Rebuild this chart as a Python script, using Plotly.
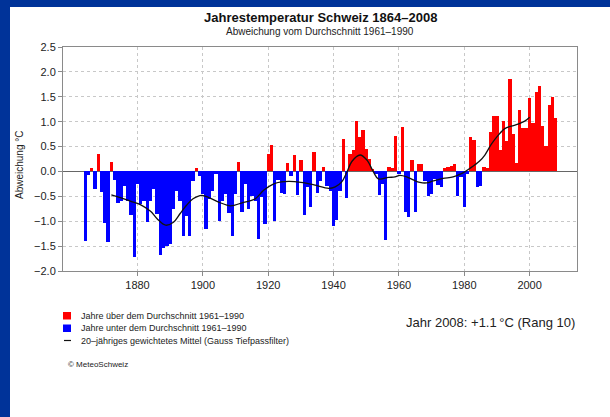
import plotly.graph_objects as go

# ---------------- data ----------------
years = list(range(1864, 2009))
anomaly = [
    -1.39, -0.08, 0.07, -0.36, 0.36, -0.41, -1.03, -1.42, 0.19, -0.18,   # 1864-1873
    -0.63, -0.60, -0.30, -0.60, -0.88, -1.72, -0.25, -0.65, -0.60, -1.01,  # 1874-1883
    -0.60, -0.35, -0.85, -1.68, -1.54, -1.50, -1.46, -0.75, -0.40, -0.60,  # 1884-1893
    -1.30, -0.90, -1.30, -0.20, 0.07, -0.10, -0.45, -1.16, -0.55, -0.40,   # 1894-1903
    -0.05, -1.00, -0.60, -0.45, -0.84, -1.30, -0.45, 0.19, -0.82, -0.25,   # 1904-1913
    -0.75, -0.50, -0.60, -1.35, -0.51, -1.06, 0.36, 0.54, -1.00, -0.17,    # 1914-1923
    -0.44, -0.45, 0.16, -0.10, 0.33, -0.48, 0.24, -0.88, -0.31, -0.71,     # 1924-1933
    0.40, -0.44, -0.20, 0.08, -0.30, -0.40, -1.10, -0.98, -0.40, 0.66,     # 1934-1943
    -0.54, 0.36, 0.43, 1.02, 0.70, 0.84, 0.46, 0.26, 0.05, -0.05,          # 1944-1953
    -0.48, -0.25, -1.38, 0.09, 0.06, 0.72, -0.05, 0.90, -0.81, -0.92,      # 1954-1963
    0.23, -0.82, 0.14, 0.15, -0.20, -0.50, -0.46, -0.15, -0.27, -0.31,     # 1964-1973
    0.06, 0.09, 0.10, 0.15, -0.50, -0.12, -0.71, -0.05, 0.70, 0.63,        # 1974-1983
    -0.31, -0.30, 0.08, 0.06, 0.80, 1.12, 1.12, 0.43, 1.02, 0.62,          # 1984-1993
    1.85, 0.75, 0.16, 1.23, 0.87, 0.87, 1.47, 0.97, 1.60, 1.72,            # 1994-2003
    0.91, 0.51, 1.34, 1.49, 1.08,                                          # 2004-2008
]

# 20-year Gaussian low-pass curve
curve_years = [1872, 1875, 1878, 1881, 1884, 1886, 1888.6, 1891, 1893, 1895,
               1897, 1899.7, 1902, 1905, 1908.5, 1912, 1916, 1918.6, 1921.7,
               1924, 1926.5, 1930, 1934, 1938.5, 1940.5, 1942.5, 1944.1,
               1945.6, 1948.1, 1950.2, 1952.2, 1953.7, 1956.8, 1958.8, 1960.3,
               1962.4, 1964.4, 1966.4, 1968.5, 1970.5, 1973.5, 1976.6, 1979.6,
               1981.7, 1984.7, 1986.3, 1988.3, 1990.3, 1992.4, 1994.4, 1996.4,
               1998.5, 2000]
curve_values = [-0.47, -0.53, -0.60, -0.67, -0.80, -0.95, -1.08, -1.02, -0.85, -0.68,
                -0.55, -0.48, -0.53, -0.62, -0.69, -0.63, -0.55, -0.38, -0.25,
                -0.21, -0.20, -0.22, -0.27, -0.34, -0.31, -0.21, -0.01,
                0.20, 0.33, 0.23, -0.01, -0.15, -0.12, -0.11, -0.08,
                -0.11, -0.17, -0.22, -0.23, -0.19, -0.14, -0.11, -0.03,
                0.06, 0.21, 0.33, 0.55, 0.72, 0.86, 0.91, 0.95,
                1.01, 1.09]

x_ticks = [1880, 1900, 1920, 1940, 1960, 1980, 2000]
y_ticks = [-2.0, -1.5, -1.0, -0.5, 0.0, 0.5, 1.0, 1.5, 2.0, 2.5]

title_text = "Jahrestemperatur Schweiz 1864\u20132008"
subtitle_text = "Abweichung vom Durchschnitt 1961\u20131990"
y_title = "Abweichung \u00b0C"
legend_labels = [
    "Jahre \u00fcber dem Durchschnitt 1961\u20131990",
    "Jahre unter dem Durchschnitt 1961\u20131990",
    "20\u2013j\u00e4hriges gewichtetes Mittel (Gauss Tiefpassfilter)",
]
credit_text = "\u00a9 MeteoSchweiz"
info_text = "Jahr 2008: +1.1\u202f\u00b0C (Rang 10)"

RED = "#FF0000"
BLUE = "#0000FF"
FRAME = "#003399"
FONT = "Liberation Sans, Arial, Helvetica, sans-serif"

# ---------------- geometry helpers ----------------
W, H = 610, 417
ML, MR, MT, MB = 63, 33, 47, 146
PW, PH = W - ML - MR, H - MT - MB


def px(x):
    return (x - ML) / PW


def py(y):
    return (H - MB - y) / PH


# ---------------- traces ----------------
pos_x = [y for y, v in zip(years, anomaly) if v >= 0]
pos_v = [v for v in anomaly if v >= 0]
neg_x = [y for y, v in zip(years, anomaly) if v < 0]
neg_v = [v for v in anomaly if v < 0]

fig = go.Figure()
fig.add_trace(go.Bar(x=pos_x, y=pos_v, marker=dict(color=RED, line=dict(width=0)),
                     width=1.0, showlegend=False, name=legend_labels[0]))
fig.add_trace(go.Bar(x=neg_x, y=neg_v, marker=dict(color=BLUE, line=dict(width=0)),
                     width=1.0, showlegend=False, name=legend_labels[1]))
fig.add_trace(go.Scatter(x=curve_years, y=curve_values, mode="lines",
                         line=dict(color="#111111", width=1.3, shape="spline", smoothing=1.0),
                         showlegend=False, name=legend_labels[2]))

# ---------------- layout ----------------
shapes = [
    # blue page frame
    dict(type="rect", xref="paper", yref="paper", x0=px(0), x1=px(W), y0=py(0), y1=py(7),
         fillcolor=FRAME, line=dict(width=0), layer="below"),
    dict(type="rect", xref="paper", yref="paper", x0=px(0), x1=px(10), y0=py(0), y1=py(H),
         fillcolor=FRAME, line=dict(width=0), layer="below"),
    # legend symbols
    dict(type="rect", xref="paper", yref="paper", x0=px(63), x1=px(71), y0=py(312), y1=py(319.5),
         fillcolor=RED, line=dict(width=0)),
    dict(type="rect", xref="paper", yref="paper", x0=px(63), x1=px(71), y0=py(324.5), y1=py(332),
         fillcolor=BLUE, line=dict(width=0)),
    dict(type="line", xref="paper", yref="paper", x0=px(64), x1=px(71), y0=py(340.5), y1=py(340.5),
         line=dict(color="#111111", width=1.2)),
]

annotations = [
    dict(text="<b>" + title_text + "</b>", x=px(320), y=py(18), xref="paper", yref="paper",
         showarrow=False, xanchor="center", yanchor="middle",
         font=dict(family=FONT, size=13, color="#111111")),
    dict(text=subtitle_text, x=px(320), y=py(32), xref="paper", yref="paper",
         showarrow=False, xanchor="center", yanchor="middle",
         font=dict(family=FONT, size=10, color="#222222")),
    dict(text=y_title, x=px(19), y=py(165), xref="paper", yref="paper", textangle=-90,
         showarrow=False, xanchor="center", yanchor="middle",
         font=dict(family=FONT, size=10, color="#222222")),
    dict(text=info_text, x=px(404), y=py(322), xref="paper", yref="paper",
         showarrow=False, xanchor="left", yanchor="middle",
         font=dict(family=FONT, size=13, color="#222222")),
    dict(text=credit_text, x=px(66), y=py(364), xref="paper", yref="paper",
         showarrow=False, xanchor="left", yanchor="middle",
         font=dict(family=FONT, size=8, color="#222222")),
]
for i, (lab, yy) in enumerate(zip(legend_labels, [316, 328, 340.5])):
    annotations.append(dict(text=lab, x=px(79), y=py(yy), xref="paper", yref="paper",
                            showarrow=False, xanchor="left", yanchor="middle",
                            font=dict(family=FONT, size=9, color="#222222")))

fig.update_layout(
    width=W, height=H,
    margin=dict(l=ML, r=MR, t=MT, b=MB, pad=0),
    paper_bgcolor="white", plot_bgcolor="white",
    bargap=0, barmode="overlay",
    font=dict(family=FONT, size=11, color="#222222"),
    shapes=shapes, annotations=annotations,
    showlegend=False,
    xaxis=dict(range=[1857.2, 2014.5], tickvals=x_ticks, ticktext=[str(t) for t in x_ticks],
               showgrid=True, gridcolor="#C8C8C8", griddash="dot", gridwidth=1,
               showline=True, linecolor="#8A8A8A", linewidth=1, mirror=True,
               ticks="outside", ticklen=4, tickcolor="#8A8A8A", zeroline=False,
               tickfont=dict(size=11, color="#222222")),
    yaxis=dict(range=[-2.0, 2.5], tickvals=y_ticks, tickformat=".1f",
               showgrid=True, gridcolor="#C8C8C8", griddash="dot", gridwidth=1,
               showline=True, linecolor="#8A8A8A", linewidth=1, mirror=True,
               ticks="outside", ticklen=4, tickcolor="#8A8A8A",
               zeroline=True, zerolinecolor="#666666", zerolinewidth=1,
               tickfont=dict(size=11, color="#222222")),
)

fig.write_html(
    "out.html",
    config={"displayModeBar": False},
    post_script="document.body.style.margin='0px';document.body.style.overflow='hidden';"
                "document.documentElement.style.overflow='hidden';",
)
